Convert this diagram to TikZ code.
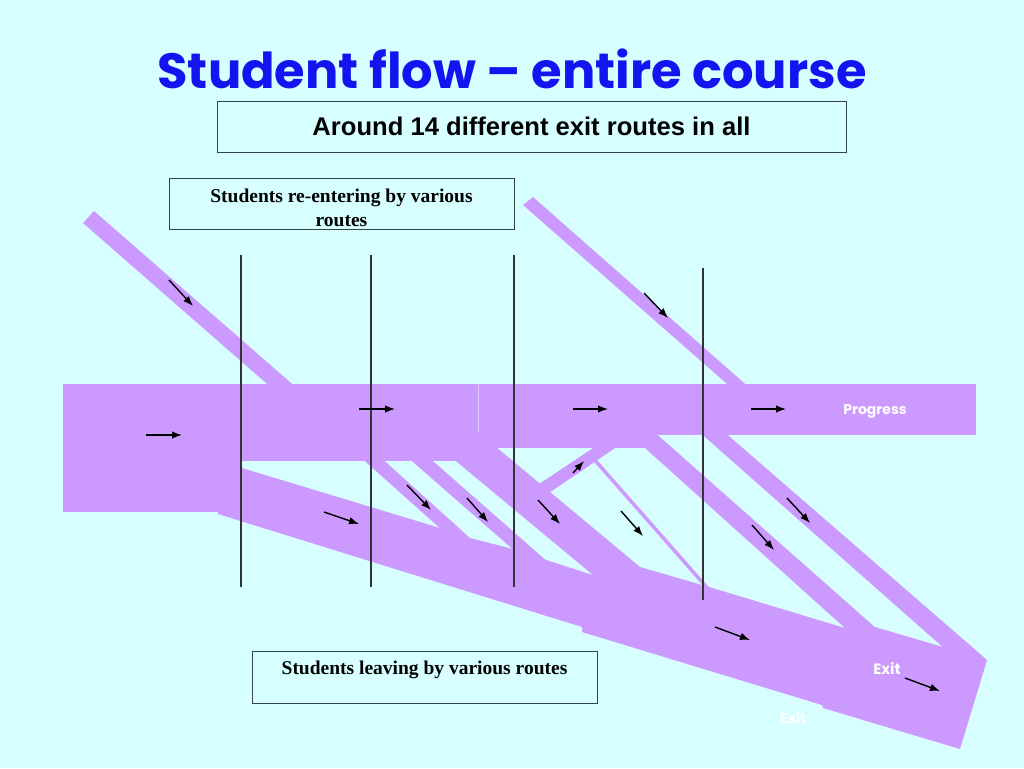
\documentclass[tikz,border=0pt]{standalone}
\usepackage{fontspec}
\setmainfont{Liberation Serif}
\newfontfamily\comicfont{Poppins}
\newfontfamily\arialfont{Liberation Sans}
\usetikzlibrary{arrows.meta}
\definecolor{slidebg}{RGB}{215,255,255}
\definecolor{flowpurple}{RGB}{204,153,255}
\definecolor{titleblue}{RGB}{20,20,240}
\definecolor{boxline}{RGB}{50,70,70}

\begin{document}
\begin{tikzpicture}[x=1pt, y=-1pt,
    flow/.style = {fill=flowpurple},
    stage/.style = {draw=black!80, line width=1.1pt},
    flowarrow/.style = {-{Latex[length=10pt,width=7.5pt]}, line width=1.4pt},
    notebox/.style = {draw=boxline, line width=0.8pt, inner sep=0pt},
    boxtext/.style = {font=\bfseries\fontsize{19.5}{23.5}\selectfont, align=center},
    flowlabel/.style = {text=white, font=\comicfont\bfseries\fontsize{14}{16}\selectfont}]

\fill[slidebg] (0,0) rectangle (1024,768);
\useasboundingbox (0,0) rectangle (1024,768);

% main band, left block and step under the band
\fill[flow] (63,384) rectangle (976,435);
\fill[flow] (63,384) rectangle (220,512);
\fill[flow] (218,430) rectangle (645,448);
\fill[flow] (218,440) rectangle (455,461);
\draw[flowpurple!55!white, line width=0.8pt] (478,385) -- (478,432);

% students re-entering
\fill[flow] (83,223) -- (94,211) -- (299,390) -- (274,390) -- cycle;
\fill[flow] (523,205) -- (533,197) -- (752,390) -- (734,390) -- cycle;

% exit flow
\fill[flow] (218,461) -- (242,461) -- (242,468) -- (440,528) -- (470,538)
  -- (513,549) -- (546,560) -- (593,575) -- (640,567) -- (709,587)
  -- (845,628) -- (875,627) -- (943,647) -- (987,660) -- (960,749)
  -- (823,708) -- (822,705) -- (582,632) -- (582,627) -- (218,514) -- cycle;

% stripes leaving the band
\fill[flow] (358,455) -- (378,455) -- (481,548) -- (451,538) -- cycle;
\fill[flow] (405,455) -- (426,455) -- (557,570) -- (524,559) -- cycle;
\fill[flow] (433,442) -- (490,442) -- (652,577) -- (605,585) -- cycle;
\fill[flow] (530,490) -- (602,442) -- (624,442) -- (540,499) -- cycle;
\draw[flowpurple, line width=3.5pt] (593,458) -- (709,590);
\fill[flow] (625,430) -- (652,430) -- (886,637) -- (856,638) -- cycle;
\fill[flow] (697,430) -- (722,430) -- (987,660) -- (954,657) -- cycle;

% stage lines
\foreach \x/\top/\bot in {241/255/587, 371/255/587, 514/255/587, 703/268/600}
  \draw[stage] (\x,\top) -- (\x,\bot);

% arrows
\foreach \xa/\ya/\xb/\yb in {146/435/182/435, 359/409/395/409, 573/409/608/409,
    751/409/786/409, 169/280/193/306, 644/293/668/318, 324/512/359/524,
    407/485/431/510, 467/498/488/522, 538/500/560/524, 573/473/584/461,
    621/511/643/536, 752/525/774/550, 787/498/810/523, 715/627/750/640,
    905/678/940/691}
  \draw[flowarrow] (\xa,\ya) -- (\xb,\yb);

% texts
\node[text=titleblue, font=\comicfont\bfseries\fontsize{49.5}{54}\selectfont] (title) at (512,69) {Student flow – entire course};
\node[notebox, minimum width=629pt, minimum height=51pt,
      font=\arialfont\bfseries\fontsize{25.6}{30}\selectfont] (routes) at (531.5,126.5) {Around 14 different exit routes in all};
\node[notebox, minimum width=345pt, minimum height=51pt] (enterbox) at (341.5,203.5) {};
\node[boxtext] (entertext) at (341.5,208) {Students re-entering by various\\routes};
\node[notebox, minimum width=345pt, minimum height=52pt] (leavebox) at (424.5,677) {};
\node[boxtext] (leavetext) at (424.5,670) {Students leaving by various routes};
\node[flowlabel] (progress) at (875,412) {Progress};
\node[flowlabel, font=\comicfont\bfseries\fontsize{15}{17}\selectfont] (exit) at (887,668) {Exit};
\node[flowlabel] (exitfaint) at (793,718) {Exit};
\end{tikzpicture}
\end{document}
